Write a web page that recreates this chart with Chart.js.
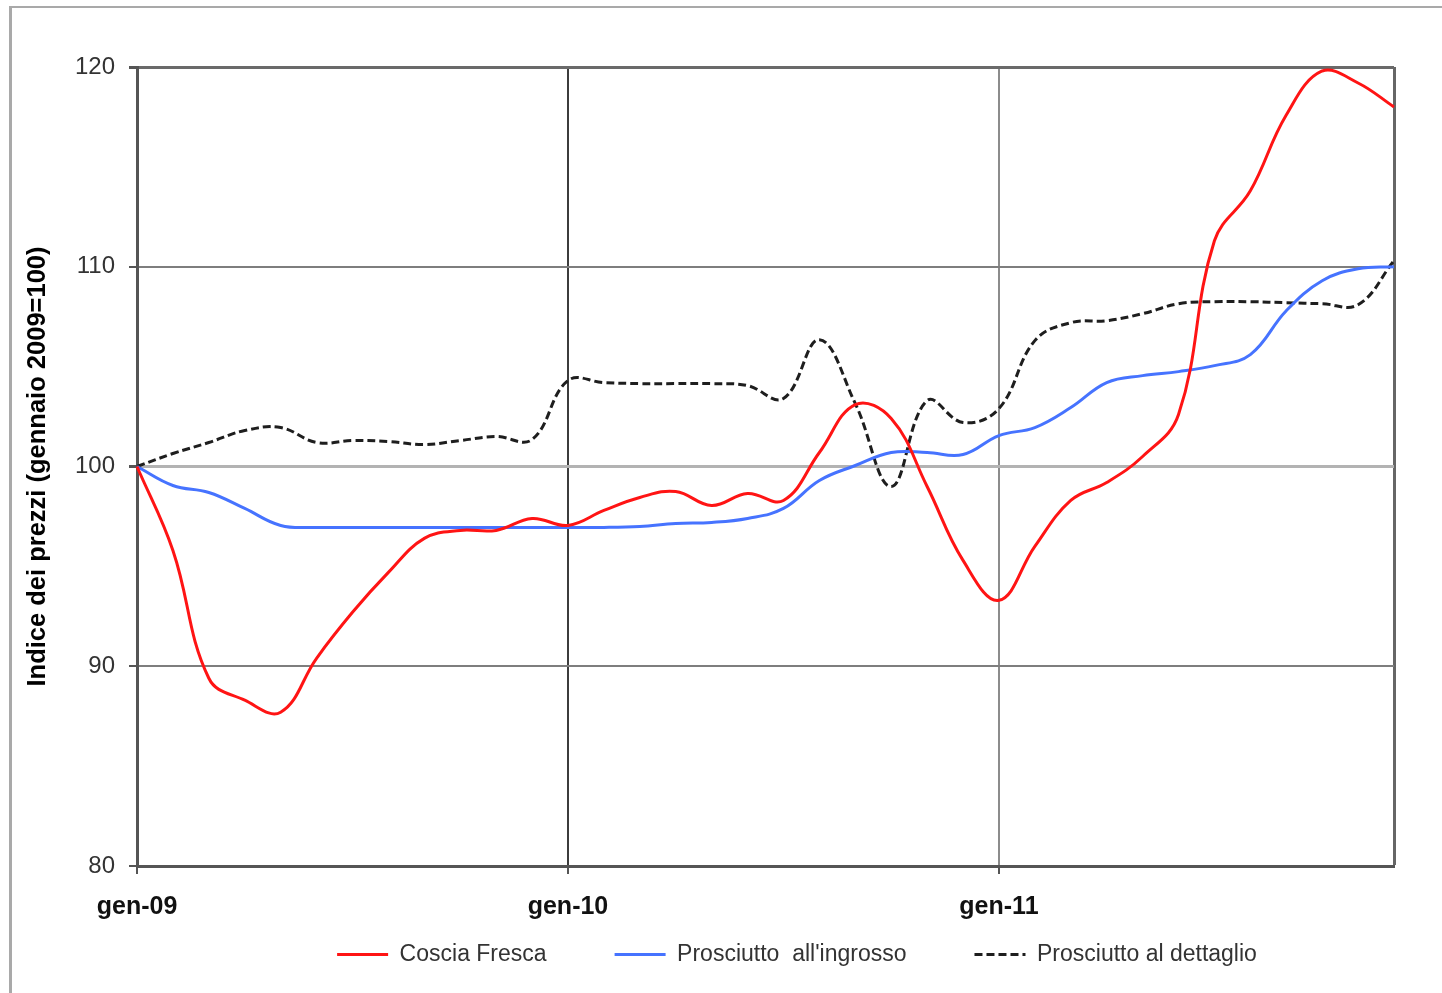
<!DOCTYPE html>
<html lang="it">
<head>
<meta charset="utf-8">
<title>Indice dei prezzi</title>
<script src="https://cdn.jsdelivr.net/npm/chart.js@4.4.1/dist/chart.umd.min.js"></script>
<style>
    html, body { margin: 0; padding: 0; background: #fff; }
    #frame {
        position: absolute; left: 9px; top: 6px; width: 1500px; height: 1100px;
        border-left: 3px solid #a9a9a9; border-top: 2px solid #a9a9a9;
    }
    #wrap { position: absolute; left: 0; top: 0; width: 1442px; height: 993px; }
</style>
</head>
<body>
<div id="frame"></div>
<div id="wrap"><canvas id="priceChart"></canvas></div>
<script>
const months = [
    'gen-09', 'feb-09', 'mar-09', 'apr-09', 'mag-09', 'giu-09', 'lug-09', 'ago-09', 'set-09', 'ott-09', 'nov-09', 'dic-09',
    'gen-10', 'feb-10', 'mar-10', 'apr-10', 'mag-10', 'giu-10', 'lug-10', 'ago-10', 'set-10', 'ott-10', 'nov-10', 'dic-10',
    'gen-11', 'feb-11', 'mar-11', 'apr-11', 'mag-11', 'giu-11', 'lug-11', 'ago-11', 'set-11', 'ott-11', 'nov-11', 'dic-11'
];

const cosciaFresca = [
    100, 95.8, 89.4, 88.3, 87.7, 90.4, 92.7, 94.7, 96.4, 96.8, 96.8, 97.4,
    97.05, 97.8, 98.45, 98.75, 98.05, 98.65, 98.3, 100.7, 103.1, 102.4, 99.0, 95.3,
    93.3, 96.0, 98.3, 99.2, 100.5, 102.6, 111.3, 113.8, 117.6, 119.8, 119.2, 118.0
];

const prosciuttoIngrosso = [
    100, 99.05, 98.7, 97.9, 97.05, 96.95, 96.95, 96.95, 96.95, 96.95, 96.95, 96.95,
    96.95, 96.95, 97.0, 97.15, 97.2, 97.4, 97.9, 99.3, 100.05, 100.7, 100.7, 100.6,
    101.55, 101.95, 102.95, 104.2, 104.55, 104.75, 105.05, 105.6, 107.8, 109.3, 109.9, 110.0
];

const prosciuttoDettaglio = [
    100, 100.65, 101.2, 101.8, 101.95, 101.2, 101.3, 101.25, 101.1, 101.3, 101.5, 101.35,
    104.3, 104.2, 104.15, 104.15, 104.15, 104.05, 103.4, 106.35, 103.15, 99.0, 103.3, 102.2,
    102.9, 106.3, 107.2, 107.3, 107.65, 108.15, 108.25, 108.25, 108.2, 108.15, 108.1, 110.3
];

const yTicks = [80, 90, 100, 110, 120];
const yearStarts = ['gen-09', 'gen-10', 'gen-11'];

const FONT = "'Liberation Sans', Arial, sans-serif";

document.addEventListener('DOMContentLoaded', () => {
    renderChart();
});

// the legend in the original sits right of centre and closer to the axis labels,
// and the x labels need more room than the layout gives them
const boxTweaks = {
    id: 'boxTweaks',
    afterLayout(chart) {
        const legend = chart.legend;
        const h = legend.height;
        legend.left += 95;
        legend.right += 95;
        legend.top = 875;
        legend.bottom = legend.top + h;

        const x = chart.scales.x;
        x.height = 64;
        x.bottom = x.top + 64;
    }
};

function xGridColor(ctx) {
    if (ctx.index === 12) return '#3c3c3c';
    if (ctx.index === 24) return '#8c8c8c';
    if (ctx.index === months.length - 1) return '#666';
    return 'rgba(0,0,0,0)';
}

function yGridColor(ctx) {
    const v = ctx.tick.value;
    if (v === 100) return '#b3b3b3';
    if (v === 120) return '#6a6a6a';
    return '#7e7e7e';
}

function renderChart() {
    const ctx = document.getElementById('priceChart').getContext('2d');
    new Chart(ctx, {
        type: 'line',
        data: {
            labels: months,
            datasets: [{
                label: 'Coscia Fresca',
                data: cosciaFresca,
                borderColor: '#ff1414',
                borderWidth: 3,
                tension: 0.4,
                pointRadius: 0
            }, {
                label: 'Prosciutto  all\'ingrosso',
                data: prosciuttoIngrosso,
                borderColor: '#4673ff',
                borderWidth: 3,
                tension: 0.4,
                pointRadius: 0
            }, {
                label: 'Prosciutto al dettaglio',
                data: prosciuttoDettaglio,
                borderColor: '#1e1e1e',
                borderWidth: 3,
                borderDash: [8, 4],
                tension: 0.4,
                pointRadius: 0
            }]
        },
        options: {
            responsive: true,
            maintainAspectRatio: false,
            animation: false,
            layout: { padding: { left: 10, right: 48, top: 67, bottom: 0 } },
            scales: {
                x: {
                    ticks: {
                        autoSkip: false,
                        maxRotation: 0,
                        padding: 18,
                        color: '#111',
                        font: { family: FONT, size: 25, weight: 'bold' },
                        callback: (v, i) => yearStarts.includes(months[i]) ? months[i] : ''
                    },
                    grid: {
                        color: xGridColor,
                        lineWidth: ctx => ctx.index === months.length - 1 ? 3 : 2,
                        tickLength: 8,
                        tickColor: ctx => ctx.index % 12 === 0 ? '#555' : 'rgba(0,0,0,0)'
                    },
                    border: { color: '#555', width: 3 },
                    afterFit: s => { s.height = 26; }
                },
                y: {
                    min: yTicks[0],
                    max: yTicks[yTicks.length - 1],
                    afterBuildTicks: s => { s.ticks = yTicks.map(v => ({ value: v })); },
                    ticks: {
                        padding: 14,
                        color: '#333',
                        font: { family: FONT, size: 24 }
                    },
                    grid: {
                        color: yGridColor,
                        lineWidth: ctx => (ctx.tick.value === 100 || ctx.tick.value === 120) ? 3 : 2,
                        tickLength: 8,
                        tickColor: '#555'
                    },
                    border: { color: '#555', width: 3 },
                    title: {
                        display: true,
                        text: 'Indice dei prezzi (gennaio 2009=100)',
                        color: '#000',
                        font: { family: FONT, size: 25.5, weight: 'bold' },
                        padding: { top: 13, bottom: 0 }
                    },
                    afterFit: s => { s.width = 127; }
                }
            },
            plugins: {
                legend: {
                    position: 'bottom',
                    labels: {
                        usePointStyle: true,
                        pointStyleWidth: 51,
                        boxHeight: 23,
                        padding: 68,
                        color: '#333',
                        font: { family: FONT, size: 23 },
                        generateLabels: chart => chart.data.datasets.map((ds, i) => ({
                            text: ds.label,
                            datasetIndex: i,
                            pointStyle: 'line',
                            strokeStyle: ds.borderColor,
                            fillStyle: ds.borderColor,
                            lineWidth: ds.borderWidth,
                            lineDash: ds.borderDash || [],
                            fontColor: '#333',
                            hidden: false
                        }))
                    }
                },
                tooltip: { enabled: false }
            }
        },
        plugins: [boxTweaks]
    });
}
</script>
</body>
</html>
